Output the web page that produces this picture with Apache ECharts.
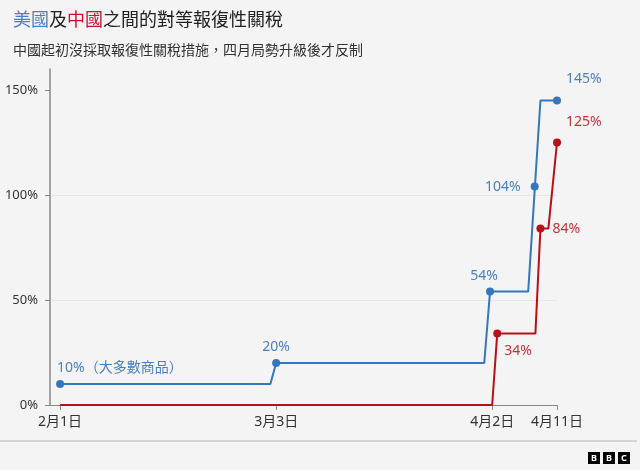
<!DOCTYPE html>
<html>
<head>
<meta charset="utf-8">
<script src="https://cdn.jsdelivr.net/npm/echarts@6/dist/echarts.min.js"></script>
<style>
html,body{margin:0;padding:0;background:#f4f4f4;}
#chart{width:640px;height:470px;}
</style>
</head>
<body>
<div id="chart"></div>
<script>
// Days counted from 2月1日 (day 0)
const xTickDays = [0, 30, 60, 69];
const xTickLabels = ['2月1日', '3月3日', '4月2日', '4月11日'];
const yTicks = [0, 50, 100, 150];

// US tariff path (step line)
const usDays  = [0, 29.2, 30, 58.9, 59.7, 65, 66.7, 69];
const usRates = [10, 10, 20, 20, 54, 54, 145, 145];
// China tariff path
const cnDays  = [0, 60, 60.7, 66, 66.7, 67.8, 69];
const cnRates = [0, 0, 34, 34, 84, 84, 125];

// Marked points
const usMarkDays   = [0, 30, 59.7, 65.9, 69];
const usMarkRates  = [10, 20, 54, 104, 145];
const usMarkLabels = ['10%（大多數商品）', '20%', '54%', '104%', '145%'];
const cnMarkDays   = [60.7, 66.7, 69];
const cnMarkRates  = [34, 84, 125];
const cnMarkLabels = ['34%', '84%', '125%'];

const BLUE = '#3576bd', BLUE_TXT = '#4a80c2';
const RED = '#bb0f18', RED_TXT = '#c8323a';
const FONT = "'Noto Sans', 'Noto Sans CJK TC', sans-serif";

const usLabelCfg = [
  {position: 'top', align: 'left', offset: [-3, 0]},
  {position: 'top'},
  {position: 'top', offset: [-6, 0]},
  {position: 'left', distance: 10},
  {position: 'right', offset: [0, -21]}
];
const cnLabelCfg = [
  {position: 'right', offset: [-2, 17]},
  {position: 'right', offset: [3, 0]},
  {position: 'right', offset: [0, -20]}
];

function zip(a, b) { return a.map((v, i) => [v, b[i]]); }

const chart = echarts.init(document.getElementById('chart'));
chart.setOption({
  backgroundColor: '#f4f4f4',
  textStyle: {fontFamily: FONT},
  animation: false,
  title: [
    {
      text: '{b|美國}及{r|中國}之間的對等報復性關稅',
      left: 8, top: 7,
      textStyle: {
        fontSize: 18, fontWeight: 'normal', color: '#222', fontFamily: FONT,
        rich: {
          b: {fontSize: 18, color: BLUE_TXT, fontFamily: FONT},
          r: {fontSize: 18, color: '#c8102e', fontFamily: FONT}
        }
      }
    },
    {
      text: '中國起初沒採取報復性關稅措施，四月局勢升級後才反制',
      left: 8, top: 39,
      textStyle: {fontSize: 14, fontWeight: 'normal', color: '#333', fontFamily: FONT}
    }
  ],
  grid: {left: 50, right: 83, top: 69, bottom: 65, containLabel: false},
  xAxis: {
    type: 'value', min: -1.4, max: 69,
    axisLine: {show: true, onZero: false, lineStyle: {color: '#888', width: 1}},
    axisTick: {show: true, length: 5, customValues: xTickDays, lineStyle: {color: '#888'}},
    axisLabel: {
      customValues: xTickDays, margin: 10, fontSize: 14, color: '#333', fontFamily: FONT,
      formatter: v => { const i = xTickDays.indexOf(v); return i >= 0 ? xTickLabels[i] : ''; }
    },
    splitLine: {show: false}
  },
  yAxis: {
    type: 'value', min: 0, max: 160, interval: 50,
    axisLine: {show: true, onZero: false, lineStyle: {color: '#888', width: 1.5}},
    axisTick: {show: true, length: 5, customValues: yTicks, lineStyle: {color: '#888'}},
    axisLabel: {customValues: yTicks, formatter: '{value}%', margin: 12, fontSize: 13, color: '#333', fontFamily: FONT},
    splitLine: {show: true, showMaxLine: false, showMinLine: false, lineStyle: {color: '#e6e6e6', width: 1}}
  },
  series: [
    {
      type: 'line', data: zip(usDays, usRates), showSymbol: false,
      lineStyle: {color: BLUE, width: 2}, itemStyle: {color: BLUE}, z: 3
    },
    {
      type: 'line', data: zip(cnDays, cnRates), showSymbol: false,
      lineStyle: {color: RED, width: 2}, itemStyle: {color: RED}, z: 3
    },
    {
      type: 'scatter', symbolSize: 8, z: 5,
      itemStyle: {color: BLUE, opacity: 1},
      data: usMarkDays.map((d, i) => ({
        value: [d, usMarkRates[i]],
        label: Object.assign({show: true, formatter: usMarkLabels[i], color: BLUE_TXT, fontSize: 14, fontFamily: FONT, distance: 5}, usLabelCfg[i])
      }))
    },
    {
      type: 'scatter', symbolSize: 8, z: 5,
      itemStyle: {color: RED, opacity: 1},
      data: cnMarkDays.map((d, i) => ({
        value: [d, cnMarkRates[i]],
        label: Object.assign({show: true, formatter: cnMarkLabels[i], color: RED_TXT, fontSize: 14, fontFamily: FONT, distance: 5}, cnLabelCfg[i])
      }))
    }
  ],
  graphic: [
    {type: 'line', shape: {x1: 0, y1: 441, x2: 637, y2: 441}, style: {stroke: '#b4b4b4', lineWidth: 1}},
    {type: 'group', left: 588, top: 452, children: ['B', 'B', 'C'].flatMap((ch, i) => [
      {type: 'rect', shape: {x: i * 15, y: 0, width: 12, height: 12}, style: {fill: '#000'}},
      {type: 'text', x: i * 15 + 6, y: 6, style: {text: ch, fill: '#fff', font: 'bold 9px ' + FONT, align: 'center', verticalAlign: 'middle'}}
    ])}
  ]
});
</script>
</body>
</html>
